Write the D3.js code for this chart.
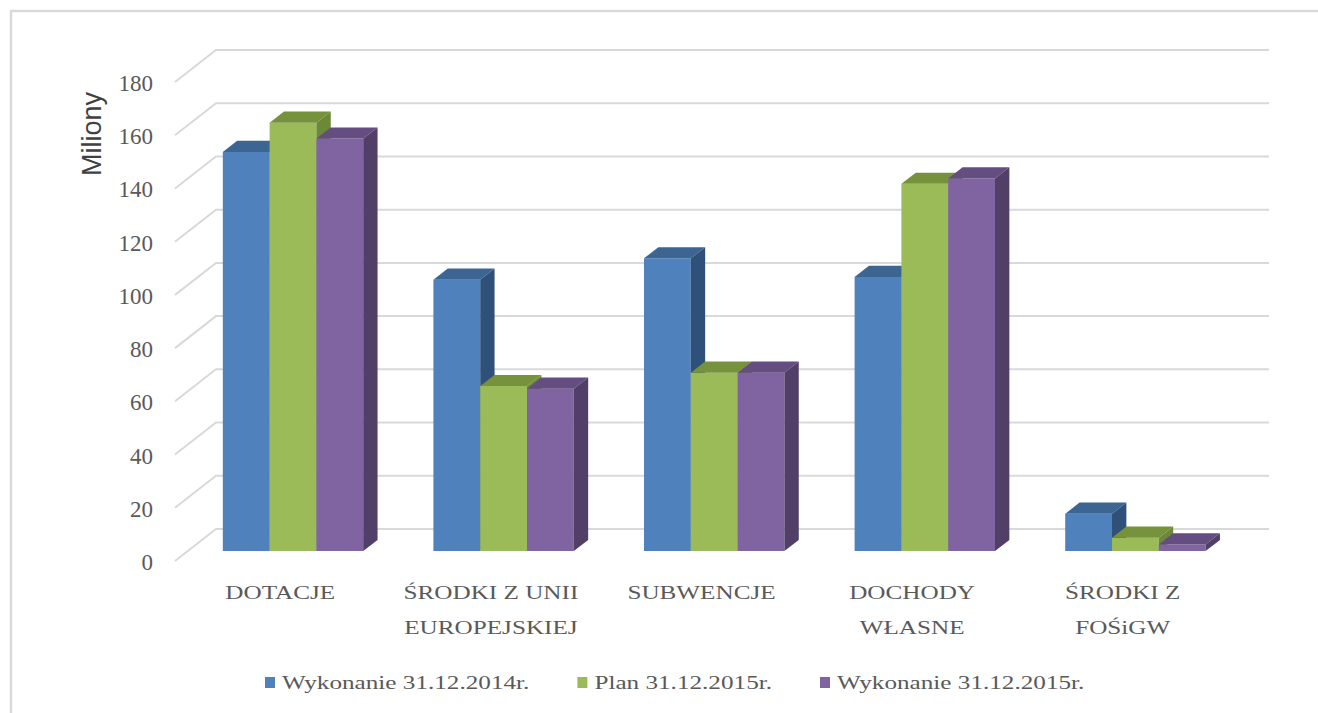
<!DOCTYPE html>
<html>
<head>
<meta charset="utf-8">
<script src="https://cdn.jsdelivr.net/npm/d3@7"></script>
<style>
body{margin:0;background:#fff;}
svg{display:block;}
</style>
</head>
<body>
<svg id="chart" width="1318" height="713"></svg>
<script>
// data (millions)
var categories = [["DOTACJE"], ["ŚRODKI Z UNII", "EUROPEJSKIEJ"], ["SUBWENCJE"], ["DOCHODY", "WŁASNE"], ["ŚRODKI Z", "FOŚiGW"]];
var seriesNames = ["Wykonanie 31.12.2014r.", "Plan 31.12.2015r.", "Wykonanie 31.12.2015r."];
var wyk2014 = [150, 102, 110, 103, 14];
var plan2015 = [161, 62, 67, 138, 5];
var wyk2015 = [155, 61, 67, 140, 2.5];
var yTicks = [0, 20, 40, 60, 80, 100, 120, 140, 160, 180];

var seriesVals = [wyk2014, plan2015, wyk2015];
var colours = [
  {front: "#4f81bd", top: "#3c6592", side: "#2f5179"},
  {front: "#9bbb59", top: "#76923c", side: "#6b8936"},
  {front: "#8064a2", top: "#644d80", side: "#513f68"}
];

var svg = d3.select("#chart");
var DX = 41, DY = 32;          // oblique depth offset
var z0 = 0.31, z1 = 0.66;       // bar depth range
var grey = "#595959";
var serif = "Liberation Serif";
var stretch = 1.4;              // category/legend text is drawn wide in the original

var x = d3.scaleBand().domain(d3.range(categories.length)).range([175, 1228]);
var xs = d3.scaleBand().domain(d3.range(seriesNames.length)).range([0, x.bandwidth()]).paddingOuter(0.75);
var y = d3.scaleLinear().domain([0, 180]).range([561, 82]);

function P(px, v, z) { return [px + z * DX, y(v) - z * DY]; }
function pts(a) { return a.map(function(p){ return p.join(","); }).join(" "); }

// outer frame
svg.append("rect").attr("x", 11).attr("y", 11).attr("width", 1330).attr("height", 720)
  .attr("fill", "none").attr("stroke", "#d9d9d9").attr("stroke-width", 2.5);

// gridlines: left wall diagonal + back wall
var grid = svg.append("g").attr("stroke", "#d9d9d9").attr("stroke-width", 2).attr("fill", "none");
yTicks.forEach(function(t) {
  var a = P(175, t, 0), b = P(175, t, 1), c = P(1228, t, 1);
  grid.append("polyline").attr("points", pts([a, b, c]));
});

// tick labels
svg.append("g").selectAll("text").data(yTicks).enter().append("text")
  .attr("x", 153).attr("y", function(d){ return y(d) + 9; })
  .attr("text-anchor", "end")
  .style("font-family", serif).style("font-size", "23px").style("fill", grey)
  .text(function(d){ return d; });

// axis title
svg.append("text")
  .attr("transform", "translate(101,134) rotate(-90)")
  .attr("text-anchor", "middle")
  .style("font-family", "Liberation Sans").style("font-size", "27px").style("fill", "#404040")
  .text("Miliony");

// bars, left to right so each front hides the neighbour's side
var bars = svg.append("g");
categories.forEach(function(cat, i) {
  seriesVals.forEach(function(vals, s) {
    var v = vals[i], col = colours[s];
    var xl = x(i) + xs(s), xr = xl + xs.bandwidth();
    var g = bars.append("g");
    g.append("polygon").attr("fill", col.front)
      .attr("points", pts([P(xl, 0, z0), P(xr, 0, z0), P(xr, v, z0), P(xl, v, z0)]));
    g.append("polygon").attr("fill", col.top)
      .attr("points", pts([P(xl, v, z0), P(xr, v, z0), P(xr, v, z1), P(xl, v, z1)]));
    g.append("polygon").attr("fill", col.side)
      .attr("points", pts([P(xr, 0, z0), P(xr, 0, z1), P(xr, v, z1), P(xr, v, z0)]));
  });
});

// category labels
var lab = svg.append("g");
categories.forEach(function(lines, i) {
  lines.forEach(function(l, k) {
    lab.append("text")
      .attr("transform", "translate(" + (x(i) + x.bandwidth() / 2) + "," + (599 + k * 35) + ") scale(" + stretch + ",1)")
      .attr("text-anchor", "middle")
      .style("font-family", serif).style("font-size", "18px").style("fill", grey)
      .text(l);
  });
});

// legend
var leg = svg.append("g");
var lx = 265;
seriesNames.forEach(function(name, s) {
  leg.append("rect").attr("x", lx).attr("y", 677).attr("width", 10).attr("height", 11)
    .attr("fill", colours[s].front);
  var t = leg.append("text")
    .attr("transform", "translate(" + (lx + 17) + ",689) scale(" + stretch + ",1)")
    .style("font-family", serif).style("font-size", "18px").style("fill", grey)
    .text(name);
  lx = lx + 17 + t.node().getComputedTextLength() * stretch + 48;
});
</script>
</body>
</html>
